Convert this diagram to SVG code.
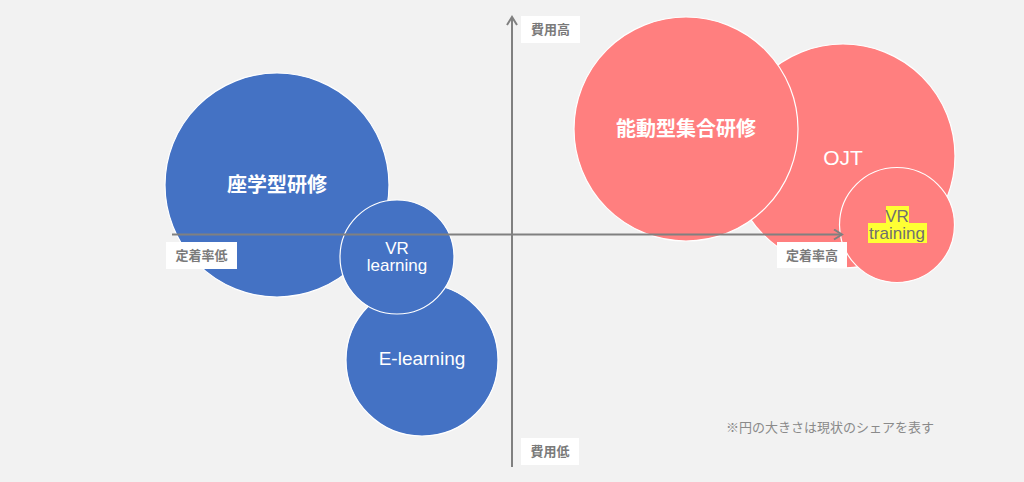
<svg xmlns="http://www.w3.org/2000/svg" width="1024" height="482" viewBox="0 0 1024 482">
<defs>
<style>
.blue{fill:#4472C4;stroke:#ffffff;stroke-width:1.2}
.red{fill:#FF7F7F;stroke:#ffffff;stroke-width:1.2}
.jp{font-family:"Liberation Sans","Noto Sans CJK JP",sans-serif;font-weight:bold;fill:#ffffff;font-size:20px;text-anchor:middle;dominant-baseline:central}
.en{font-family:"Liberation Sans","Noto Sans CJK JP",sans-serif;fill:#ffffff;text-anchor:middle;dominant-baseline:central}
.lbl{fill:#ffffff}
.lt{font-family:"Liberation Sans","Noto Sans CJK JP",sans-serif;font-weight:bold;fill:#7a7a7a;font-size:13px;text-anchor:middle;dominant-baseline:central}
.axis{stroke:#808080;stroke-width:2;fill:none}
</style>
<marker id="arr" viewBox="0 0 12 12" refX="10" refY="6" markerWidth="6" markerHeight="6" orient="auto" markerUnits="strokeWidth">
<path d="M2,1 L10,6 L2,11" fill="none" stroke="#808080" stroke-width="2"/>
</marker>
</defs>
<rect width="1024" height="482" fill="#F2F2F2"/>
<g id="zagaku">
<circle class="blue" cx="277" cy="185" r="112"/>
<text class="jp" x="277" y="185">座学型研修</text>
</g>
<g id="elearning">
<circle class="blue" cx="422" cy="360" r="76"/>
<text class="en" x="422" y="358" font-size="19">E-learning</text>
</g>
<g id="vrlearning">
<circle class="blue" cx="397" cy="257" r="57"/>
<text class="en" x="397" y="248" font-size="17">VR</text>
<text class="en" x="397" y="265" font-size="17">learning</text>
</g>
<g id="ojt">
<circle class="red" cx="843" cy="156" r="112"/>
<text class="en" x="843" y="157" font-size="21">OJT</text>
</g>
<g id="noudou">
<circle class="red" cx="686" cy="129" r="112"/>
<text class="jp" x="686" y="129">能動型集合研修</text>
</g>
<g id="vrtraining">
<circle class="red" cx="897" cy="225" r="57.5"/>
<rect x="886" y="206" width="23" height="17" fill="#FFFF33"/>
<rect x="868" y="223" width="59" height="20" fill="#FFFF33"/>
<text class="en" x="897" y="216" font-size="17" style="fill:#707070">VR</text>
<text class="en" x="897" y="233" font-size="17" style="fill:#707070">training</text>
</g>
<g id="connectors">
<line class="axis" x1="172" y1="234.5" x2="842" y2="234.5" marker-end="url(#arr)"/>
<line class="axis" x1="512" y1="467" x2="512" y2="17" marker-end="url(#arr)"/>
</g>
<g id="label-high-cost">
<rect class="lbl" x="521" y="16" width="59" height="27"/>
<text class="lt" x="550.5" y="29.5">費用高</text>
</g>
<g id="label-low-cost">
<rect class="lbl" x="521" y="438" width="58" height="27"/>
<text class="lt" x="550" y="451.5">費用低</text>
</g>
<g id="label-low-ret">
<rect class="lbl" x="166" y="242" width="71" height="27"/>
<text class="lt" x="201.5" y="255.5">定着率低</text>
</g>
<g id="label-high-ret">
<rect class="lbl" x="777" y="242" width="70" height="26"/>
<text class="lt" x="812" y="255">定着率高</text>
</g>
<g id="note">
<text x="726" y="427" font-family="'Liberation Sans','Noto Sans CJK JP',sans-serif" font-size="13" fill="#8a8a8a" dominant-baseline="central">※円の大きさは現状のシェアを表す</text>
</g>
</svg>
